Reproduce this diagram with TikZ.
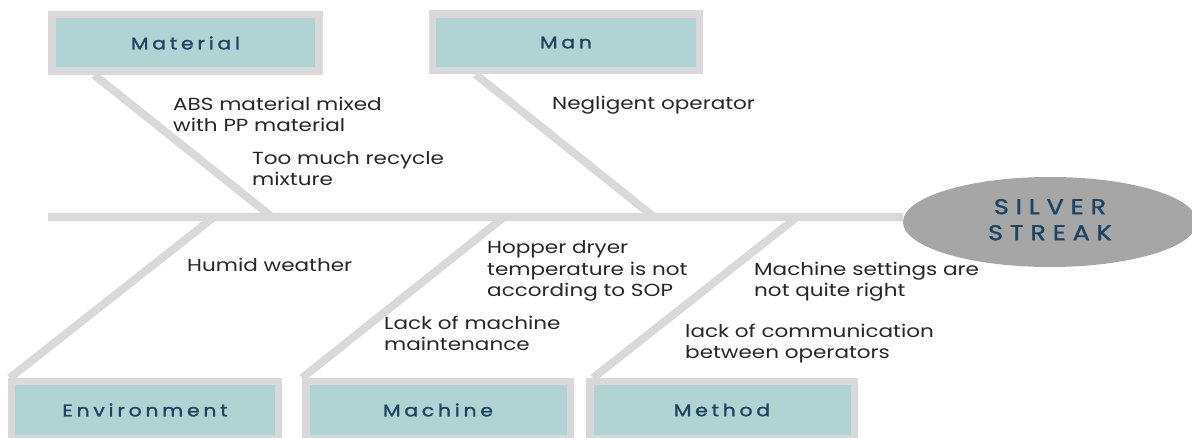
\documentclass[tikz,border=0pt]{standalone}
\usepackage{fontspec}
\setmainfont{Poppins}[FakeStretch=1.23]
\newfontfamily\boxfont{Poppins}[FakeStretch=1.2,LetterSpace=22,FakeBold=1.4]
\newfontfamily\headfont{Poppins}[FakeStretch=1.18,LetterSpace=32,FakeBold=1.6]
\usetikzlibrary{shapes.geometric,backgrounds,calc}
\definecolor{bonegray}{HTML}{D9D9D9}
\definecolor{boxteal}{HTML}{B2D3D4}
\definecolor{navy}{HTML}{1D4563}
\definecolor{headgray}{HTML}{A6A6A6}
\definecolor{labeltext}{HTML}{262626}
\tikzset{
  catbox/.style={draw=bonegray, line width=7.5pt, fill=boxteal, minimum width=267pt, minimum height=56.5pt, inner sep=0pt, text=navy, font=\boxfont\fontsize{17pt}{20pt}\selectfont},
  bone/.style={draw=bonegray, line width=8pt, line cap=butt},
  cause/.style={anchor=base west, inner sep=0pt, align=left, text=labeltext, font=\fontsize{17.5pt}{21.5pt}\selectfont},
  headnode/.style={ellipse, fill=headgray, minimum width=294pt, minimum height=90pt, inner sep=0pt, text=navy, font=\headfont\fontsize{21.5pt}{26pt}\selectfont}
}
\begin{document}
\begin{tikzpicture}[x=1pt,y=-1pt]
\useasboundingbox (0,0) rectangle (1192,438);
% category boxes
\node[catbox] (material) at (185.5,43) {Material};
\node[catbox] (man) at (566,42.5) {Man};
\node[catbox] (environment) at (145,410) {Environment};
\node[catbox, minimum width=264.5pt] (machine) at (438,410) {Machine};
\node[catbox, minimum width=264.5pt] (method) at (722,410) {Method};
% head
\node[headnode] (head) at (1050,222) {\raisebox{6pt}{\begin{tabular}{@{}c@{}}SILVER\\STREAK\end{tabular}}};
% spine points
\coordinate (tail) at (48,217);
\coordinate (sMat) at (272,217);
\coordinate (sMan) at (654,217);
\coordinate (sEnv) at (214,217);
\coordinate (sMac) at (504,217);
\coordinate (sMet) at (797,217);
\begin{scope}[on background layer]
\draw[bone] (tail) -- (tail -| head.west);
\draw[bone] ($(material.south west)+(46,0)$) -- (sMat);
\draw[bone] ($(man.south west)+(47,0)$) -- (sMan);
\draw[bone] ($(environment.north west)+(2,0)$) -- (sEnv);
\draw[bone] ($(machine.north west)+(0,0)$) -- (sMac);
\draw[bone] ($(method.north west)+(7,0)$) -- (sMet);
\end{scope}
% causes (anchored at the baseline of the last line)
\node[cause] (c1) at (173,132) {ABS material mixed\\with PP material};
\node[cause] (c2) at (252,186) {Too much recycle\\mixture};
\node[cause] (c3) at (552,110) {Negligent operator};
\node[cause] (c4) at (187,272) {Humid weather};
\node[cause] (c5) at (487,297) {Hopper dryer\\temperature is not\\according to SOP};
\node[cause] (c6) at (384,351) {Lack of machine\\maintenance};
\node[cause] (c7) at (754,297) {Machine settings are\\not quite right};
\node[cause] (c8) at (685,359) {lack of communication\\between operators};
\end{tikzpicture}
\end{document}
